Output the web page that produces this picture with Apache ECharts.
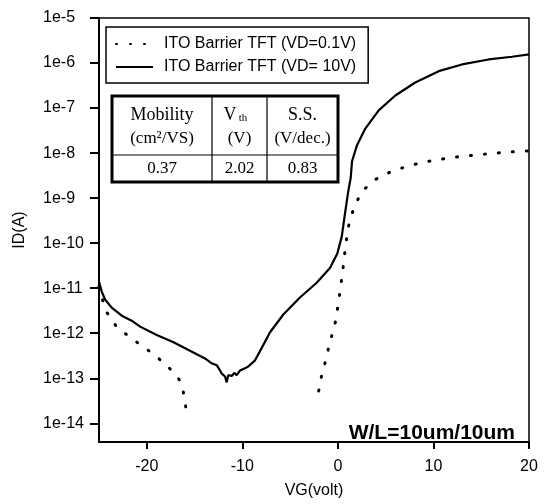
<!DOCTYPE html>
<html>
<head>
<meta charset="utf-8">
<script src="https://cdn.jsdelivr.net/npm/echarts@6.0.0/dist/echarts.min.js"></script>
<style>
  html, body { margin: 0; padding: 0; background: #fff; }
  #chart { width: 544px; height: 504px; }
</style>
</head>
<body>
<div id="chart"></div>
<script>
// Transfer curves of the ITO barrier TFT: gate voltage (V) vs drain current (A)
const vgHigh = [-25, -24.72, -24.37, -23.67, -22.62, -21.58, -20.7, -18.96, -17.2, -15.48,
  -13.91, -13.21, -12.68, -12.34, -12.16, -11.81, -11.64, -11.47, -11.11, -10.84,
  -10.59, -10.25, -9.72, -9.38, -8.67, -8.15, -7.1, -5.71, -3.97, -2.22,
  -0.83, -0.06, 0.4, 0.74, 1.09, 1.34, 1.48, 2.0, 2.87, 4.27,
  6.01, 8.1, 10.55, 12.99, 15.78, 18.22, 20];
const idHigh = [1.4e-11, 8.5e-12, 5.6e-12, 3.7e-12, 2.45e-12, 1.9e-12, 1.4e-12, 9.1e-13, 6.3e-13, 4.1e-13,
  2.75e-13, 2.15e-13, 1.95e-13, 1.5e-13, 1.26e-13, 1.1e-13, 8.1e-14, 1.17e-13, 1.12e-13, 1.32e-13,
  1.17e-13, 1.48e-13, 1.66e-13, 1.82e-13, 2.5e-13, 4.0e-13, 1.05e-12, 2.6e-12, 6.2e-12, 1.32e-11,
  2.8e-11, 5.9e-11, 1.38e-10, 4.5e-10, 1.45e-9, 2.8e-9, 6.6e-9, 1.5e-8, 3.5e-8, 8.9e-8,
  1.9e-7, 3.7e-7, 6.6e-7, 9.3e-7, 1.2e-6, 1.38e-6, 1.55e-6];

// VD = 0.1V: the current is not measurable between the two branches (null = gap)
const vgLow = [-25, -24.72, -24.27, -23.22, -21.76, -20.29, -18.96, -17.57, -16.6, -16.18,
  -15.93, -15.72, -9, -2.01, -1.73, -1.32, -0.96, -0.58, -0.2, 0.01,
  0.23, 0.43, 0.62, 0.77, 0.98, 1.23, 1.78, 2.5, 3.92, 5.48,
  6.99, 8.45, 10.02, 11.6, 12.99, 14.56, 16.13, 17.7, 19.2, 20];
const idLow = [1.1e-11, 6.3e-12, 3.1e-12, 1.45e-12, 8.1e-13, 4.9e-13, 3.0e-13, 1.62e-13, 9.3e-14, 5.0e-14,
  2.35e-14, 1.2e-14, null, 5.2e-14, 1.07e-13, 2.3e-13, 4.9e-13, 9.8e-13, 2.0e-12, 4.2e-12,
  8.7e-12, 1.8e-11, 3.8e-11, 7.6e-11, 1.6e-10, 3.2e-10, 6.8e-10, 1.4e-9, 2.6e-9, 3.8e-9,
  4.9e-9, 5.9e-9, 6.9e-9, 7.8e-9, 8.5e-9, 9.1e-9, 9.8e-9, 1.05e-8, 1.1e-8, 1.12e-8];

const seriesNames = ['ITO Barrier TFT (VD=0.1V)', 'ITO Barrier TFT (VD= 10V)'];
const xTicks = [-20, -10, 0, 10, 20];
const yTicks = [1e-14, 1e-13, 1e-12, 1e-11, 1e-10, 1e-9, 1e-8, 1e-7, 1e-6, 1e-5];

// Device parameter table
const tableHead = ['Mobility', 'V', 'S.S.'];
const tableSub = ['(cm\u00B2/VS)', '(V)', '(V/dec.)'];
const tableValues = ['0.37', '2.02', '0.83'];
const deviceNote = 'W/L=10um/10um';

const SANS = '"Liberation Sans", Arial, sans-serif';
const SERIF = '"Liberation Serif", "Times New Roman", serif';

function pairs(xs, ys) {
  return xs.map((x, i) => [x, ys[i] == null ? '-' : ys[i]]);
}

const chart = echarts.init(document.getElementById('chart'), null, { renderer: 'canvas' });

const tableText = (x, y, text, size) => ({
  type: 'text', x: x, y: y,
  style: { text: text, font: size + 'px ' + SERIF, fill: '#000', align: 'center', verticalAlign: 'middle' }
});

chart.setOption({
  backgroundColor: '#fff',
  animation: false,
  grid: {
    left: 99, right: 15, top: 18, bottom: 56,
    show: true, borderColor: '#000', borderWidth: 1.5
  },
  legend: {
    left: 106, top: 27,
    orient: 'vertical',
    data: seriesNames,
    itemWidth: 37, itemHeight: 14, itemGap: 5,
    padding: [8, 12, 7, 9],
    borderColor: '#000', borderWidth: 1.5, borderRadius: 0,
    backgroundColor: '#fff',
    // legend keys show the line pattern only, without a marker
    itemStyle: { opacity: 0 },
    textStyle: { fontFamily: SANS, fontSize: 16, color: '#000', lineHeight: 18, padding: [0, 0, 0, 6] }
  },
  xAxis: {
    type: 'value', min: -25, max: 20,
    name: 'VG(volt)', nameLocation: 'middle', nameGap: 41,
    nameTextStyle: { fontFamily: SANS, fontSize: 16, color: '#000' },
    axisLine: { onZero: false, lineStyle: { color: '#000', width: 2 } },
    axisTick: { length: 7, lineStyle: { color: '#000', width: 2 }, customValues: xTicks },
    axisLabel: { fontFamily: SANS, fontSize: 16, color: '#000', margin: 17, customValues: xTicks },
    splitLine: { show: false }
  },
  yAxis: {
    type: 'log', logBase: 10, min: 3.84e-15, max: 1e-5,
    name: 'ID(A)', nameLocation: 'middle', nameGap: 71, nameRotate: 90,
    nameTextStyle: { fontFamily: SANS, fontSize: 16, color: '#000' },
    axisLine: { onZero: false, lineStyle: { color: '#000', width: 2 } },
    axisTick: { length: 9, lineStyle: { color: '#000', width: 2 }, customValues: yTicks },
    axisLabel: {
      fontFamily: SANS, fontSize: 16, color: '#000', margin: 56, align: 'left',
      customValues: yTicks,
      formatter: v => '1e' + Math.round(Math.log10(v))
    },
    splitLine: { show: false }
  },
  series: [
    {
      name: seriesNames[0], type: 'line', data: pairs(vgLow, idLow),
      showSymbol: false, symbol: 'none', connectNulls: false,
      lineStyle: { color: '#000', width: 3, type: [1, 13], cap: 'round' },
      itemStyle: { color: '#000' }, z: 2
    },
    {
      name: seriesNames[1], type: 'line', data: pairs(vgHigh, idHigh),
      showSymbol: false, symbol: 'none',
      lineStyle: { color: '#000', width: 2.2 },
      itemStyle: { color: '#000' }, z: 3
    }
  ],
  graphic: [
    {
      type: 'group', x: 112, y: 96, z: 10,
      children: [
        { type: 'rect', shape: { x: 0, y: 0, width: 226, height: 86 },
          style: { fill: '#fff', stroke: '#000', lineWidth: 3 } },
        { type: 'line', shape: { x1: 100, y1: 0, x2: 100, y2: 86 }, style: { stroke: '#000', lineWidth: 1.2 } },
        { type: 'line', shape: { x1: 155, y1: 0, x2: 155, y2: 86 }, style: { stroke: '#000', lineWidth: 1.2 } },
        { type: 'line', shape: { x1: 0, y1: 59, x2: 226, y2: 59 }, style: { stroke: '#000', lineWidth: 1.2 } },
        tableText(50, 19, tableHead[0], 18),
        { type: 'text', x: 118, y: 19,
          style: { text: tableHead[1], font: '18px ' + SERIF, fill: '#000', align: 'center', verticalAlign: 'middle' } },
        { type: 'text', x: 131, y: 22,
          style: { text: 'th', font: '11px ' + SERIF, fill: '#000', align: 'center', verticalAlign: 'middle' } },
        tableText(190.5, 19, tableHead[2], 18),
        tableText(50, 43, tableSub[0], 17),
        tableText(127.5, 43, tableSub[1], 17),
        tableText(190.5, 43, tableSub[2], 17),
        tableText(50, 73, tableValues[0], 17),
        tableText(127.5, 73, tableValues[1], 17),
        tableText(190.5, 73, tableValues[2], 17)
      ]
    },
    {
      type: 'text', x: 515, y: 433, z: 10,
      style: { text: deviceNote, font: 'bold 21px ' + SANS, fill: '#000', align: 'right', verticalAlign: 'middle' }
    }
  ]
});
</script>
</body>
</html>
